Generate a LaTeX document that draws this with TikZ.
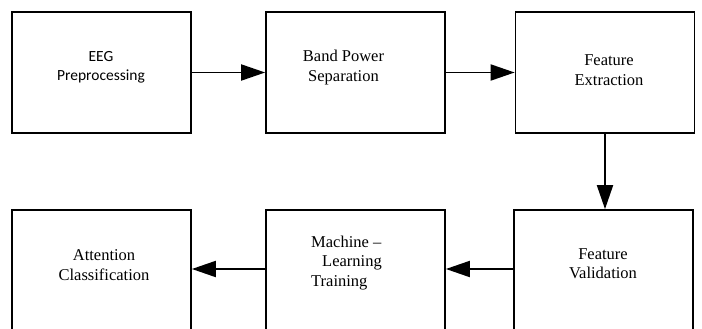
\documentclass[tikz,border=0pt]{standalone}
\usepackage{fontspec}
\setmainfont{Liberation Serif}
\newfontfamily\carlito{Carlito}
\usetikzlibrary{arrows.meta}
\begin{document}
\begin{tikzpicture}[x=1pt,y=-1pt,
  stage/.style={draw=black, line width=1.7pt, minimum width=179pt, minimum height=121pt, inner sep=0pt},
  tallstage/.style={stage, minimum height=140pt},
  caption/.style={font=\fontsize{16.5}{19.5}\selectfont, align=center, inner sep=0pt},
  flow/.style={line width=1.9pt, -{Triangle[length=24pt,width=16pt]}}]
\useasboundingbox (0,0) rectangle (702,329);
\clip (0,0) rectangle (702,329);

% upper row of stages
\node[stage] (b1) at (101.5,72.5) {};
\node[stage] (b2) at (355.5,72.5) {};
\node[stage] (b3) at (605,72.5) {};
% lower row, running past the bottom edge
\node[tallstage] (b4) at (101.5,280) {};
\node[tallstage] (b5) at (355.5,280) {};
\node[tallstage] (b6) at (603.5,280) {};
\coordinate (rowB) at (0,269);

% captions
\node[caption, font=\carlito\fontsize{15.5}{19}\selectfont] (t1) at (101,67) {EEG\\Preprocessing};
\node[caption] (t2) at (343.5,67.5) {Band Power\\Separation};
\node[caption] (t3) at (609,70) {Feature\\Extraction};
\node[caption] (t4) at (104,265) {Attention\\Classification};
\node[caption, align=left, anchor=west] (t5) at (311,263) {Machine --\\\hspace*{11pt}Learning\\Training};
\node[caption] (t6) at (603,263.5) {Feature\\Validation};

% process flow
\draw[flow] (b1.east) -- (b2.west);
\draw[flow] (b2.east) -- (b3.west);
\draw[flow] (b3.south) -- (b3.south |- b6.north);
\draw[flow] (b6.west |- rowB) -- (b5.east |- rowB);
\draw[flow] (b5.west |- rowB) -- (b4.east |- rowB);
\end{tikzpicture}
\end{document}
